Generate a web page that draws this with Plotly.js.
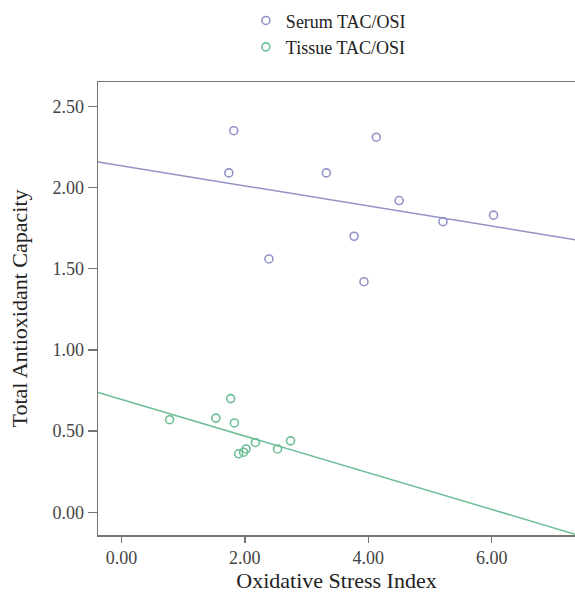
<!DOCTYPE html>
<html>
<head>
<meta charset="utf-8">
<script src="https://cdn.plot.ly/plotly-3.0.1.min.js"></script>
<style>html,body{margin:0;padding:0;background:#fff;overflow:hidden}</style>
</head>
<body>
<div id="chart" style="width:575px;height:593px"></div>
<script>
// Data
const serumOSI = [1.82, 4.13, 1.74, 3.32, 4.50, 5.21, 6.03, 3.77, 2.39, 3.93];
const serumTAC = [2.35, 2.31, 2.09, 2.09, 1.92, 1.79, 1.83, 1.70, 1.56, 1.42];
const tissueOSI = [0.78, 1.53, 1.77, 1.83, 2.17, 2.74, 2.53, 2.02, 1.98, 1.90];
const tissueTAC = [0.57, 0.58, 0.70, 0.55, 0.43, 0.44, 0.39, 0.39, 0.37, 0.36];
const seriesNames = ["Serum TAC/OSI", "Tissue TAC/OSI"];
const xRange = [-0.38, 7.35];
const yRange = [-0.14, 2.65];

const serumColor = "rgb(146,146,200)";
const tissueColor = "rgb(108,190,150)";

function olsLine(xs, ys, range) {
  const n = xs.length;
  const mx = xs.reduce((a, b) => a + b, 0) / n;
  const my = ys.reduce((a, b) => a + b, 0) / n;
  let sxy = 0, sxx = 0;
  for (let i = 0; i < n; i++) { sxy += (xs[i] - mx) * (ys[i] - my); sxx += (xs[i] - mx) ** 2; }
  const b = sxy / sxx, a = my - b * mx;
  return { x: range.slice(), y: range.map(v => a + b * v) };
}

const serumFit = olsLine(serumOSI, serumTAC, xRange);
const tissueFit = olsLine(tissueOSI, tissueTAC, xRange);

const traces = [
  { x: serumOSI, y: serumTAC, type: "scatter", mode: "markers", name: seriesNames[0],
    marker: { symbol: "circle-open", size: 8, color: serumColor, line: { width: 1.6, color: serumColor } } },
  { x: tissueOSI, y: tissueTAC, type: "scatter", mode: "markers", name: seriesNames[1],
    marker: { symbol: "circle-open", size: 8, color: tissueColor, line: { width: 1.6, color: tissueColor } } },
  { x: serumFit.x, y: serumFit.y, type: "scatter", mode: "lines", showlegend: false, hoverinfo: "skip",
    line: { color: serumColor, width: 1.5 } },
  { x: tissueFit.x, y: tissueFit.y, type: "scatter", mode: "lines", showlegend: false, hoverinfo: "skip",
    line: { color: tissueColor, width: 1.5 } }
];

const axisColor = "#7a7470";
const layout = {
  width: 575, height: 593,
  margin: { l: 98, r: 0, t: 82, b: 58 },
  paper_bgcolor: "#fff", plot_bgcolor: "#fff",
  font: { family: "Liberation Serif, Times New Roman, serif", color: "#333", size: 18 },
  showlegend: true,
  legend: { x: 0.31, xanchor: "left", y: 1.176, yanchor: "top", orientation: "v",
    font: { size: 18, color: "#222" }, tracegroupgap: 0, itemwidth: 30, bgcolor: "rgba(0,0,0,0)" },
  xaxis: {
    range: xRange, dtick: 2, tick0: 0, tickformat: ".2f",
    showgrid: false, zeroline: false, showline: true, mirror: true,
    linecolor: axisColor, linewidth: 1.5, ticks: "outside", ticklen: 6, tickcolor: axisColor, tickwidth: 1.5,
    tickfont: { size: 18, color: "#444" },
    title: { text: "Oxidative Stress Index", font: { size: 22, color: "#222" }, standoff: 5 }
  },
  yaxis: {
    range: yRange, dtick: 0.5, tick0: 0, tickformat: ".2f",
    showgrid: false, zeroline: false, showline: true, mirror: false,
    linecolor: axisColor, linewidth: 1.5, ticks: "outside", ticklen: 9, tickcolor: axisColor, tickwidth: 1.5,
    tickfont: { size: 18, color: "#444" },
    title: { text: "Total Antioxidant Capacity", font: { size: 22, color: "#222" }, standoff: 18 }
  }
};

Plotly.newPlot("chart", traces, layout, { displayModeBar: false, staticPlot: true });
</script>
</body>
</html>
